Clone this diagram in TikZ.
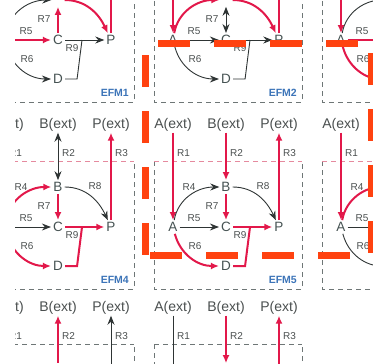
\documentclass[tikz,border=0pt]{standalone}
\usepackage{fontspec}
\setmainfont{Liberation Sans}
\usepackage{tikz}
\usetikzlibrary{arrows.meta}
\definecolor{FluxRed}{HTML}{E2184A}
\definecolor{IdleGray}{HTML}{2E3434}
\definecolor{LabelGray}{HTML}{4A4F4F}
\definecolor{MetGray}{HTML}{455252}
\definecolor{EfmBlue}{HTML}{3C74B8}
\definecolor{BoxGray}{HTML}{6E7676}
\definecolor{BoxPink}{HTML}{E58A9E}
\definecolor{MarkOrange}{HTML}{FF4210}

\begin{document}
\begin{tikzpicture}[x=1pt,y=-1pt,
    ext/.style={font=\fontsize{14}{14}\selectfont,text=LabelGray,inner sep=1pt},
    met/.style={font=\fontsize{13.5}{13.5}\selectfont,text=MetGray,inner sep=2pt},
    rlab/.style={font=\fontsize{10}{10}\selectfont,text=LabelGray,inner sep=0pt},
    efmlab/.style={font=\bfseries\fontsize{10.5}{10.5}\selectfont,text=EfmBlue,inner sep=0pt},
    boxline/.style={line width=0.9pt,dash pattern=on 5pt off 4pt},
    onfw/.style={draw=FluxRed,line width=2pt,-{Latex[length=8pt,width=7pt]}},
    onbw/.style={draw=FluxRed,line width=2pt,{Latex[length=8pt,width=7pt]}-},
    offfw/.style={draw=IdleGray,line width=0.9pt,-{Stealth[length=9pt,width=7pt]}},
    offbi/.style={draw=IdleGray,line width=0.9pt,{Stealth[length=9pt,width=7pt]}-{Stealth[length=9pt,width=7pt]}},
    markbar/.style={MarkOrange,line width=7pt,dash pattern=on 32pt off 24pt}]
  \useasboundingbox (0,0) rectangle (373,364);
  \begin{scope}
  \clip (15,0) rectangle (373,364);
  % one panel per flux mode: offsets, then R1 ... R9, name, colour of top edge, labels shown near top
  \foreach \ox/\oy/\ra/\rb/\rc/\rd/\re/\rf/\rg/\rh/\ri/\efm/\topc/\full in {
      0/-187/onfw/offbi/onfw/offfw/onfw/offfw/onbw/onfw/offfw/EFM1/BoxPink/0,
      168/-187/onfw/offbi/onfw/onfw/offfw/offfw/offbi/onfw/offfw/EFM2/BoxPink/0,
      336/-187/onfw/offbi/onfw/offfw/onfw/onfw/offbi/offfw/onfw/EFM3/BoxPink/0,
      0/0/onfw/offbi/onfw/onfw/offfw/onfw/onfw/offfw/onfw/EFM4/BoxPink/1,
      168/0/onfw/onfw/onfw/offfw/offfw/onfw/onfw/offfw/onfw/EFM5/BoxPink/1,
      336/0/onfw/onbw/offfw/onfw/offfw/offfw/offbi/offfw/offfw/EFM6/BoxPink/1,
      0/183/offfw/onbw/offfw/offfw/offfw/offfw/offbi/offfw/offfw/EFM7/BoxGray/1,
      168/183/offfw/onfw/onfw/offfw/offfw/offfw/offbi/offfw/offfw/EFM8/BoxGray/1}{
    \draw[boxline,BoxGray] (\ox-14,\oy+161) -- (\ox-14,\oy+289) -- (\ox+134,\oy+289) -- (\ox+134,\oy+161);
    \draw[boxline,\topc] (\ox-14,\oy+161) -- (\ox+134,\oy+161);
    \node[ext] (Aext-\efm) at (\ox+5,\oy+125) {A(ext)};
    \node[ext] (Bext-\efm) at (\ox+58,\oy+125) {B(ext)};
    \node[ext] (Pext-\efm) at (\ox+111,\oy+125) {P(ext)};
    \node[met] (A-\efm) at (\ox+5,\oy+227) {A};
    \node[met] (B-\efm) at (\ox+58,\oy+187) {\ifnum\full=1 B\else\phantom{B}\fi};
    \node[met] (C-\efm) at (\ox+58,\oy+227) {C};
    \node[met] (P-\efm) at (\ox+111,\oy+227) {P};
    \node[met] (D-\efm) at (\ox+58,\oy+266) {D};
    \coordinate (J-\efm) at (\ox+82,\oy+227);
    \draw[\ra] (Aext-\efm) -- (A-\efm);
    \draw[\rb] (Bext-\efm) -- (B-\efm);
    \draw[\rc] (P-\efm) -- (Pext-\efm);
    \draw[\rd] (A-\efm) to[out=80,in=180] (B-\efm);
    \draw[\re] (A-\efm) -- (C-\efm);
    \draw[\rf] (A-\efm) to[out=-75,in=180] (D-\efm);
    \draw[\rg] (B-\efm) -- (C-\efm);
    \draw[\rh] (B-\efm) to[out=0,in=115] (P-\efm);
    \draw[\ri] (C-\efm) -- (P-\efm);
    \draw[\ri,-] (D-\efm.east) -- ++(12,0) -- (J-\efm);
    \node[rlab,anchor=west] at (\ox+9,\oy+153) {R1};
    \node[rlab,anchor=west] at (\ox+62,\oy+153) {R2};
    \node[rlab,anchor=west] at (\ox+115,\oy+153) {R3};
    \ifnum\full=1
      \node[rlab] at (\ox+21,\oy+187) {R4};
      \node[rlab] at (\ox+95,\oy+186) {R8};
    \fi
    \node[rlab] at (\ox+26,\oy+218) {R5};
    \node[rlab] at (\ox+27,\oy+246) {R6};
    \node[rlab] at (\ox+44,\oy+206) {R7};
    \node[rlab] at (\ox+72,\oy+235) {R9};
    \node[efmlab,anchor=east] at (\ox+129,\oy+280) {\efm};
  }
  \end{scope}
  % highlight frame
  \draw[markbar] (145.5,55) -- (145.5,260);
  \draw[markbar] (158,43) -- (360,43);
  \draw[markbar] (150,255) -- (352,255);
  \draw[markbar] (371,53) -- (371,255);
\end{tikzpicture}
\end{document}
